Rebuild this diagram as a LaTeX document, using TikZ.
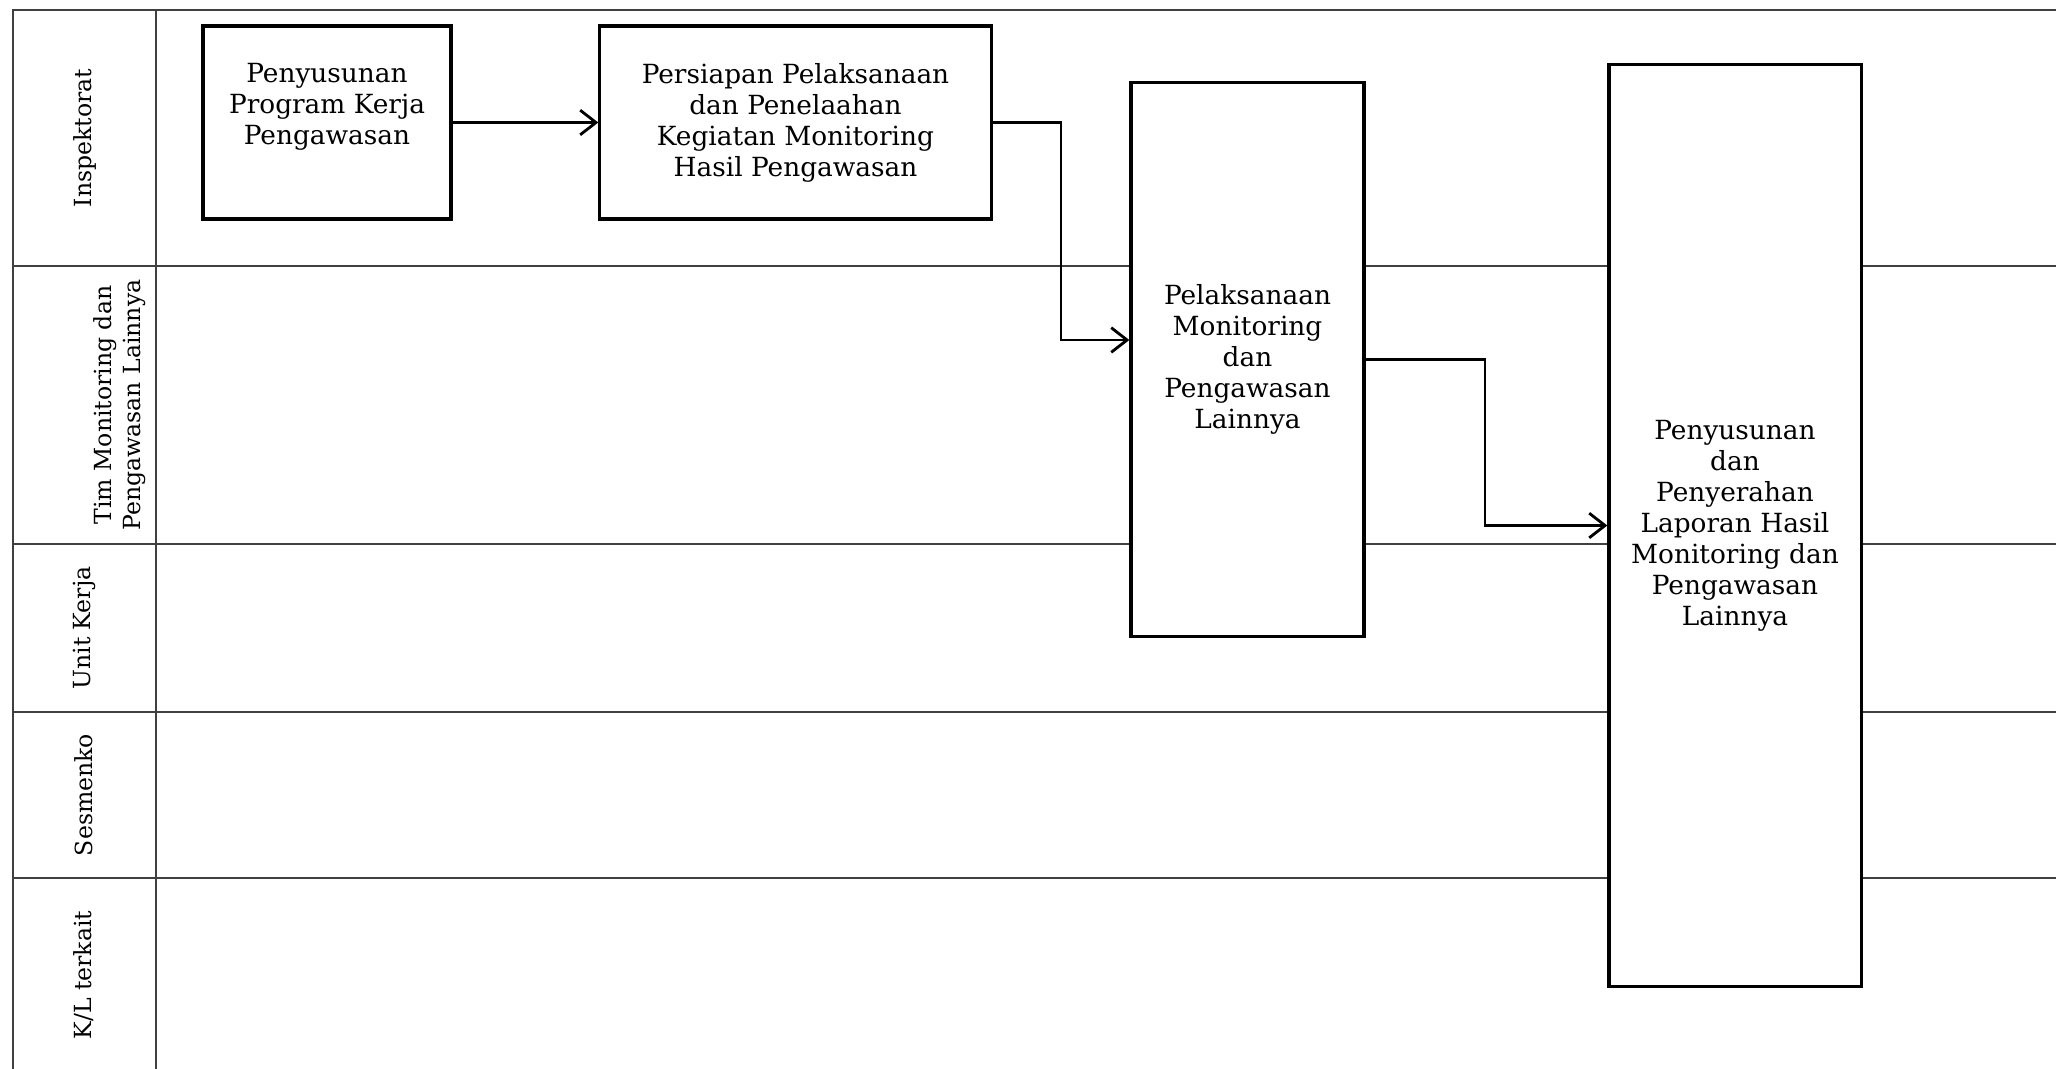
\documentclass[tikz,border=0pt]{standalone}
\usepackage{fontspec}
\setmainfont{DejaVu Serif}
\usetikzlibrary{arrows.meta}
\begin{document}
\begin{tikzpicture}[x=0.01cm,y=-0.01cm,
  lane/.style={draw=black!75,line width=0.8pt},
  box/.style={draw=black,line width=0.9pt,fill=white,rectangle,inner sep=0pt},
  boxtext/.style={align=center,font=\fontsize{7.5}{8.8}\selectfont,inner sep=0pt},
  lanelabel/.style={rotate=90,align=center,font=\fontsize{6.7}{8.2}\selectfont,inner sep=0pt},
  arr/.style={draw=black,line width=0.8pt,-{Straight Barb[length=4.5pt,width=7pt]}}]
\useasboundingbox (0,0) rectangle (2056,1069);
\fill[white] (0,0) rectangle (2056,1069);
% swimlane grid
\draw[lane] (13,1069) -- (13,10) -- (2056,10);
\draw[lane] (156,10) -- (156,1069);
\draw[lane] (13,266) -- (2056,266);
\draw[lane] (13,544) -- (2056,544);
\draw[lane] (13,712) -- (2056,712);
\draw[lane] (13,878) -- (2056,878);
% lane labels
\node[lanelabel] (l1) at (85,138) {Inspektorat};
\node[lanelabel] (l2) at (120,405) {Tim Monitoring dan\\Pengawasan Lainnya};
\node[lanelabel] (l3) at (84,628) {Unit Kerja};
\node[lanelabel] (l4) at (84,795) {Sesmenko};
\node[lanelabel] (l5) at (84,975) {K/L terkait};
% boxes
\node[box,minimum width=2.48cm,minimum height=1.93cm] (b1) at (327,122.5) {};
\node[boxtext] (t1) at (327,107) {Penyusunan\\Program Kerja\\Pengawasan};
\node[box,boxtext,minimum width=3.91cm,minimum height=1.93cm] (b2) at (795.5,122.5)
  {Persiapan Pelaksanaan\\dan Penelaahan\\Kegiatan Monitoring\\Hasil Pengawasan};
\node[box,boxtext,minimum width=2.33cm,minimum height=5.53cm] (b3) at (1247.5,359.5)
  {Pelaksanaan\\Monitoring\\dan\\Pengawasan\\Lainnya};
\node[box,boxtext,minimum width=2.52cm,minimum height=9.21cm] (b4) at (1735,525.5)
  {Penyusunan\\dan\\Penyerahan\\Laporan Hasil\\Monitoring dan\\Pengawasan\\Lainnya};
% connectors
\coordinate (e1) at (1061,340);
\coordinate (e2) at (1485,440);
\draw[arr] (b1.east) -- (b2.west);
\draw[arr] (b2.east) -| (e1) -- (e1 -| b3.west);
\draw[arr] (b3.east) -| (e2 |- b4.west) -- (b4.west);
\end{tikzpicture}
\end{document}
